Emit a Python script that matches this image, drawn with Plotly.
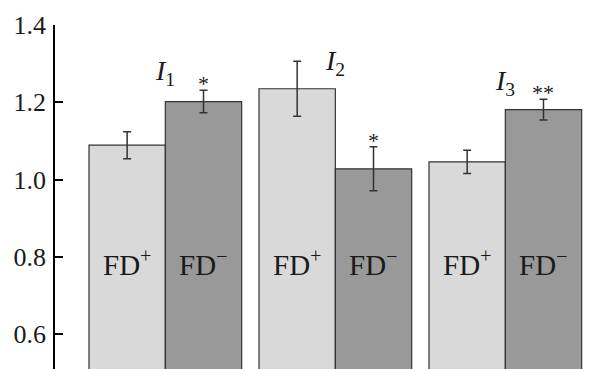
import plotly.graph_objects as go

groups = ["I1", "I2", "I3"]
group_labels = ["<i>I</i><sub>1</sub>", "<i>I</i><sub>2</sub>", "<i>I</i><sub>3</sub>"]
fd_plus = [1.089, 1.235, 1.046]
fd_plus_err = [0.035, 0.071, 0.030]
fd_minus = [1.202, 1.028, 1.181]
fd_minus_err = [0.029, 0.057, 0.027]
minus_marks = ["*", "*", "**"]
tick_vals = [0.6, 0.8, 1.0, 1.2, 1.4]
tick_text = ["0.6", "0.8", "1.0", "1.2", "1.4"]

label_y = [1.276, 1.302, 1.250]

SERIF = "Liberation Serif"
BARGAP = 0.102
half = (1 - BARGAP) / 4  # offset of each bar centre from group centre

fig = go.Figure()
fig.add_trace(go.Bar(
    x=groups, y=fd_plus, name="FD+",
    marker=dict(color="#d9d9d9", line=dict(color="#333333", width=1.2)),
    error_y=dict(type="data", array=fd_plus_err, color="#333333", thickness=1.5, width=4),
))
fig.add_trace(go.Bar(
    x=groups, y=fd_minus, name="FD−",
    marker=dict(color="#999999", line=dict(color="#333333", width=1.2)),
    error_y=dict(type="data", array=fd_minus_err, color="#333333", thickness=1.5, width=4),
))

ann = []
for i, g in enumerate(groups):
    ann.append(dict(x=i - half, y=0.785, xref="x", yref="y", text="FD<sup>+</sup>",
                    showarrow=False, font=dict(family=SERIF, size=29, color="#1a1a1a")))
    ann.append(dict(x=i + half, y=0.785, xref="x", yref="y", text="FD<sup>−</sup>",
                    showarrow=False, font=dict(family=SERIF, size=29, color="#1a1a1a")))
    ann.append(dict(x=i, y=label_y[i], xref="x", yref="y", text=group_labels[i],
                    showarrow=False, font=dict(family=SERIF, size=28, color="#1a1a1a")))
    ann.append(dict(x=i + half, y=fd_minus[i] + fd_minus_err[i], xref="x", yref="y",
                    text=minus_marks[i], yanchor="bottom", yshift=-8,
                    showarrow=False, font=dict(family=SERIF, size=22, color="#1a1a1a")))

fig.update_layout(
    width=600, height=361,
    margin=dict(l=47, r=0, t=17, b=0),
    paper_bgcolor="white", plot_bgcolor="white",
    barmode="group", bargap=BARGAP, bargroupgap=0,
    showlegend=False,
    annotations=ann,
    xaxis=dict(range=[-0.649, -0.649 + 553 / 170], showticklabels=False, showline=False,
               showgrid=False, zeroline=False, ticks="", automargin=False),
    yaxis=dict(range=[1.4 - 344 / 386.5, 1.4], tickvals=tick_vals, ticktext=tick_text,
               showline=True, linecolor="black", linewidth=1.5,
               ticks="inside", ticklen=8, tickwidth=1.5, tickcolor="black",
               ticklabelstandoff=2, automargin=False,
               showgrid=False, zeroline=False,
               tickfont=dict(family=SERIF, size=26, color="#1a1a1a")),
)

fig.write_html("out.html")
